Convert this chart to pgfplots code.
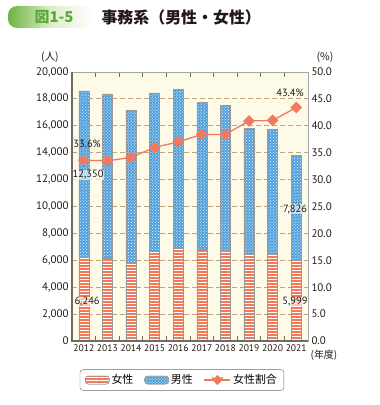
\documentclass[border=0pt]{standalone}
\usepackage{fontspec}
\setmainfont{PT Sans}
\newfontfamily\jp{Noto Sans CJK JP}
\usepackage{pgfplots}
\usepackage{pgfplotstable}
\pgfplotsset{compat=1.18}
\usetikzlibrary{patterns}
\definecolor{bgcream}{HTML}{FDFAE8}
\definecolor{gridc}{HTML}{BFA57E}
\definecolor{axdark}{HTML}{6E6A64}
\definecolor{femc}{HTML}{F07A5A}
\definecolor{malec}{HTML}{4F9FDA}
\definecolor{linec}{HTML}{EE7B60}
\definecolor{tabgreen}{HTML}{6DB33F}
\definecolor{tablight}{HTML}{DCEDC6}
\definecolor{txtgreen}{HTML}{5BAA35}
\definecolor{titlec}{HTML}{231815}

\pgfplotsset{
  barleg/.style={legend image code/.code={\draw[##1] (0bp,-4bp) rectangle (24bp,4bp);}},
  lineleg/.style={legend image code/.code={\draw[##1, mark=none] (0bp,0bp) -- (26bp,0bp); \draw[##1] plot coordinates {(13bp,0bp)};}},
}

\pgfplotstableread{
x year female male pct
0 2012 6246 12350 33.6
1 2013 6154 12216 33.5
2 2014 5852 11308 34.1
3 2015 6638 11802 36.0
4 2016 6919 11781 37.0
5 2017 6808 10922 38.4
6 2018 6724 10786 38.4
7 2019 6461 9349 40.9
8 2020 6449 9281 41.0
9 2021 5999 7826 43.4
}\datatable

\begin{document}
\begin{tikzpicture}[x=1bp,y=1bp]
\useasboundingbox (0,0) rectangle (380,405);
% title tab
\shade[left color=tabgreen, right color=white, middle color=tablight, rounded corners=9bp] (8,377) rectangle (92,399);
\node[text=txtgreen, font=\jp\bfseries\fontsize{15}{17}\selectfont] at (54,388) {図1-5};
\node[anchor=west, text=titlec, font=\jp\bfseries\fontsize{16}{18}\selectfont] at (98,388) {事務系（男性・女性）};
\node[font=\jp\fontsize{10.5}{12}\selectfont, text=titlec] at (50,348) {(人)};
\node[font=\jp\fontsize{10.5}{12}\selectfont, text=titlec] at (325,348) {(\%)};
\node[font=\jp\fontsize{10}{12}\selectfont, text=titlec, inner sep=0pt] at (324,50) {(年度)};

\begin{axis}[
  at={(72bp,64bp)}, anchor=south west, scale only axis,
  width=236bp, height=269bp,
  xmin=-0.5, xmax=9.5, ymin=0, ymax=20000,
  ybar stacked, bar width=10bp,
  xtick={0,...,9},
  xticklabels={2012,2013,2014,2015,2016,2017,2018,2019,2020,2021},
  minor xtick={0.5,1.5,...,8.5},
  major x tick style={draw=none},
  minor x tick style={draw=axdark, line width=0.8bp},
  minor tick length=5bp, tick align=inside,
  ytick={0,2000,...,20000},
  ytick style={draw=none},
  ymajorgrids,
  grid style={gridc, dashed, line width=0.9bp, dash pattern=on 5bp off 3bp},
  scaled y ticks=false,
  /pgf/number format/assume math mode=true,
  yticklabel style={font=\fontsize{11}{13}\selectfont, text=titlec, /pgf/number format/fixed, /pgf/number format/1000 sep={,}},
  xticklabel style={font=\fontsize{9.6}{12}\selectfont, text=titlec},
  axis background/.style={fill=bgcream},
  axis line style={draw=gray!70, line width=0.6bp},
  legend columns=3,
  legend style={at={(0.466,-0.145)}, anchor=center, draw=axdark, rounded corners=3bp,
    font=\jp\fontsize{11}{13}\selectfont, inner xsep=5bp, inner ysep=3bp,
    /tikz/every even column/.append style={column sep=9bp}},
  legend cell align=left,
]
\addplot[fill=femc, draw=gray!80, line width=0.5bp,
  postaction={pattern=horizontal lines, pattern color=white}, barleg]
  table[x=x, y=female]{\datatable};
\addlegendentry{女性}
\addplot[fill=malec, draw=gray!80, line width=0.5bp,
  postaction={pattern=crosshatch dots, pattern color=white}, barleg]
  table[x=x, y=male]{\datatable};
\addlegendentry{男性}
\addlegendimage{linec, line width=1.3bp, mark=square*, mark options={rotate=45, fill=linec}, mark size=3bp, lineleg}
\addlegendentry{女性割合}
\end{axis}

\begin{axis}[
  at={(72bp,64bp)}, anchor=south west, scale only axis,
  width=236bp, height=269bp,
  xmin=-0.5, xmax=9.5, ymin=0, ymax=50,
  axis x line=none, axis y line*=right,
  ytick={0,5,...,50},
  ytick style={draw=none},
  /pgf/number format/assume math mode=true,
  yticklabel style={font=\fontsize{11}{13}\selectfont, text=titlec, /pgf/number format/fixed, /pgf/number format/fixed zerofill, /pgf/number format/precision=1},
  axis line style={draw=gray!70, line width=0.6bp},
  clip=false,
]
\addplot[linec, line width=1.3bp, mark=square*, mark options={rotate=45, fill=linec}, mark size=3.5bp]
  table[x=x, y=pct]{\datatable};
\begin{scope}[every node/.style={font=\fontsize{10.5}{12}\selectfont, text=titlec, inner sep=0.5bp}]
\node at (axis cs:0.14,36.6) {33.6\%};
\node[fill=white, fill opacity=0.6, text opacity=1] at (axis cs:0.18,30.86) {12,350};
\node[fill=white, fill opacity=0.6, text opacity=1] at (axis cs:0.14,7.25) {6,246};
\node at (axis cs:8.74,46.1) {43.4\%};
\node[fill=white, fill opacity=0.6, text opacity=1] at (axis cs:8.95,24.5) {7,826};
\node[fill=white, fill opacity=0.6, text opacity=1] at (axis cs:8.95,7.25) {5,999};
\end{scope}
\end{axis}
% thick left and bottom axis lines
\draw[axdark, line width=1.6bp] (72,333) -- (72,64) -- (308,64);
\end{tikzpicture}
\end{document}
